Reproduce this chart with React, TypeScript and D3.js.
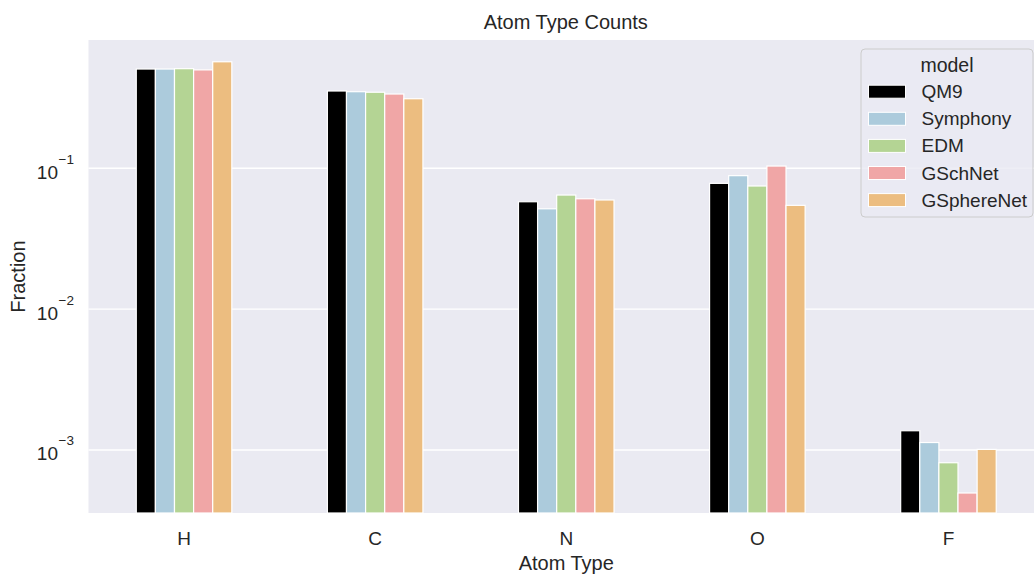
import React from "react";
import * as d3 from "d3";

const categories = ["H", "C", "N", "O", "F"];
const models = ["QM9", "Symphony", "EDM", "GSchNet", "GSphereNet"];
const colors = ["#000000", "#accbdc", "#b4d494", "#f0a6a6", "#ecbd80"];
const qm9 = [0.507, 0.354, 0.0579, 0.0782, 0.00137];
const symphony = [0.507, 0.35, 0.0516, 0.0887, 0.00113];
const edm = [0.51, 0.347, 0.0646, 0.0749, 0.000812];
const gschnet = [0.5, 0.337, 0.0608, 0.1038, 0.000495];
const gspherenet = [0.571, 0.312, 0.0596, 0.0546, 0.00101];
const series = [qm9, symphony, edm, gschnet, gspherenet];
const yTicks = [1e-3, 1e-2, 1e-1];
const yTickExp = ["−3", "−2", "−1"];

const W = 1034;
const H = 576;
const left = 88.5;
const top = 40;
const bottom = 513;
const right = 1044;
const font = "'Liberation Sans', Arial, sans-serif";
const ink = "#262626";

export default function App() {
  const x = d3.scaleLinear().domain([-0.5, categories.length - 0.5]).range([left, right]);
  const y = d3.scaleLog().domain([3.57e-4, 0.815]).range([bottom, top]);
  const groupWidth = 0.5;
  const bw = groupWidth / models.length;

  return (
    <svg width={W} height={H} style={{ position: "absolute", left: 0, top: 0, background: "#fff" }} fontFamily={font}>
      <defs>
        <clipPath id="plotclip">
          <rect x={left} y={top} width={right - left} height={bottom - top} />
        </clipPath>
      </defs>
      <rect x={left} y={top} width={right - left} height={bottom - top} fill="#eaeaf2" />
      {yTicks.map((t) => (
        <line key={t} x1={left} x2={right} y1={y(t)} y2={y(t)} stroke="#fff" strokeWidth={1.4} />
      ))}
      <g clipPath="url(#plotclip)">
        {series.map((vals, si) =>
          vals.map((v, ci) => {
            const x0 = x(ci - groupWidth / 2 + si * bw);
            const x1 = x(ci - groupWidth / 2 + (si + 1) * bw);
            return (
              <rect
                key={`${si}-${ci}`}
                x={x0}
                y={y(v)}
                width={x1 - x0}
                height={bottom - y(v)}
                fill={colors[si]}
                stroke="#fff"
                strokeWidth={1.2}
              />
            );
          })
        )}
      </g>
      {/* y ticks */}
      {yTicks.map((t, i) => (
        <g key={t}>
          <text x={58} y={y(t) + 10.5} fontSize={19} fill={ink} textAnchor="end">10</text>
          <text x={58.5} y={y(t) - 4.5} fontSize={13.5} fill={ink} textAnchor="start">{yTickExp[i]}</text>
        </g>
      ))}
      {/* x ticks */}
      {categories.map((c, i) => (
        <text key={c} x={x(i)} y={545} fontSize={19} fill={ink} textAnchor="middle">{c}</text>
      ))}
      <text x={x(2)} y={569.5} fontSize={20} fill={ink} textAnchor="middle">Atom Type</text>
      <text transform={`translate(25,${(top + bottom) / 2}) rotate(-90)`} fontSize={20} fill={ink} textAnchor="middle">Fraction</text>
      <text x={(left + right) / 2 - 0.5} y={29} fontSize={20} fill={ink} textAnchor="middle">Atom Type Counts</text>
      {/* legend */}
      <g>
        <rect x={861} y={49} width={172} height={168} rx={4} fill="#eaeaf2" fillOpacity={0.8} stroke="#cccccc" strokeWidth={1} />
        <text x={947} y={71.5} fontSize={19.5} fill={ink} textAnchor="middle">model</text>
        {models.map((m, i) => {
          const cy = 91.7 + i * 27.1;
          return (
            <g key={m}>
              <rect x={868.5} y={cy - 6.5} width={37} height={13} fill={colors[i]} stroke="#fff" strokeWidth={1} />
              <text x={921.5} y={cy + 6.5} fontSize={19} fill={ink}>{m}</text>
            </g>
          );
        })}
      </g>
    </svg>
  );
}
